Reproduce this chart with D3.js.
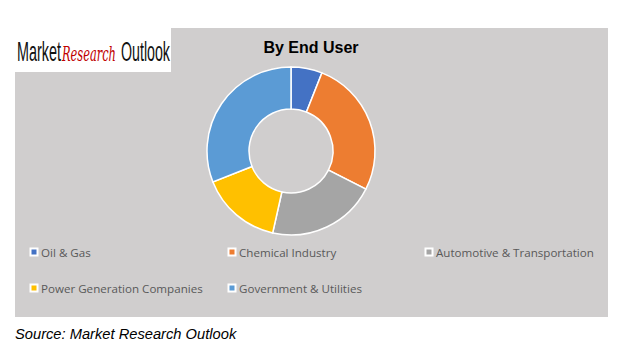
<!DOCTYPE html>
<html><head><meta charset="utf-8">
<script src="https://cdn.jsdelivr.net/npm/d3@7"></script>
<style>body{margin:0;background:#fff}svg{display:block}</style>
</head><body>
<script>
const categories = ["Oil & Gas","Chemical Industry","Automotive & Transportation","Power Generation Companies","Government & Utilities"];
const values = [6, 26.5, 21, 15.5, 31];
const colors = ["#4472C4","#ED7D31","#A5A5A5","#FFC000","#5B9BD5"];
const title = "By End User";
const source = "Source: Market Research Outlook";
const logoParts = ["Market","Research","Outlook"];

const W = 618, H = 358;
const svg = d3.select("body").append("svg").attr("width", W).attr("height", H);
svg.append("rect").attr("x",15).attr("y",28).attr("width",593).attr("height",289).attr("fill","#D0CECE");
// logo
svg.append("rect").attr("x",15).attr("y",26).attr("width",156).attr("height",46).attr("fill","#fff");
const narrow = "Liberation Sans Narrow, Arial Narrow, Liberation Sans, sans-serif";
function fitText(x, w, fam, size, fill, italic, str){
  const g = svg.append("g");
  const t = g.append("text").attr("x",0).attr("y",0).attr("font-family",fam).attr("font-size",size)
    .attr("fill",fill).attr("font-style",italic?"italic":"normal").text(str);
  const len = t.node().getComputedTextLength();
  g.attr("transform",`translate(${x},61) scale(${w/len},1)`);
}
fitText(17, 44, narrow, 27, "#111", false, logoParts[0]);
fitText(62, 54, "DejaVu Serif, serif", 21, "#C00000", true, logoParts[1]);
fitText(121, 49, narrow, 27, "#111", false, logoParts[2]);

svg.append("text").attr("x",311).attr("y",53).attr("text-anchor","middle").attr("font-family","Liberation Sans, Arial, sans-serif")
  .attr("font-weight","bold").attr("font-size",16).attr("fill","#000").text(title);

const cx = 291, cy = 151, R = 84, r = 42;
const pie = d3.pie().sort(null).value(d=>d)(values);
const arc = d3.arc().innerRadius(r).outerRadius(R);
svg.append("g").attr("transform",`translate(${cx},${cy})`).selectAll("path").data(pie).join("path")
  .attr("d",arc).attr("fill",(d,i)=>colors[i]).attr("stroke","#fff").attr("stroke-width",1.5);

const legPos = [[30,253],[228,253],[425,253],[30,289],[228,289]];
const lg = svg.append("g");
categories.forEach((c,i)=>{
  const [x,y] = legPos[i];
  lg.append("rect").attr("x",x-0.5).attr("y",y-5.5).attr("width",9).attr("height",9).attr("fill","#fff");
  lg.append("rect").attr("x",x+1.5).attr("y",y-3.5).attr("width",5).attr("height",5).attr("fill",colors[i]);
  lg.append("text").attr("x",x+11).attr("y",y+4).attr("font-family","Open Sans, sans-serif").attr("font-size",11.6)
    .attr("fill","#595959").text(c);
});

svg.append("text").attr("x",15).attr("y",339).attr("font-family","Liberation Sans, Arial, sans-serif").attr("font-style","italic")
  .attr("font-size",14.7).attr("fill","#000").text(source);
</script>
</body></html>
